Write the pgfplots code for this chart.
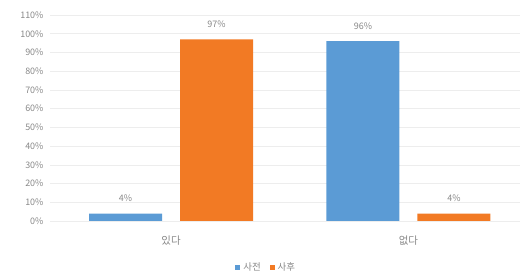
\documentclass[border=0pt]{standalone}
\usepackage{fontspec}
\setmainfont{Noto Sans CJK KR}
\usepackage{pgfplots}
\pgfplotsset{compat=1.18}
\definecolor{bblue}{HTML}{5B9BD5}
\definecolor{borange}{HTML}{F27A24}
\definecolor{tgray}{HTML}{888888}
\definecolor{ggray}{HTML}{EDEDED}
\begin{document}
\begin{tikzpicture}
\useasboundingbox (0,0) rectangle (521bp,279bp);
\begin{axis}[
  at={(50bp,58bp)}, anchor=south west,
  scale only axis, width=470bp, height=206bp,
  ybar=18bp, bar width=73bp,
  xmin=-0.51, xmax=1.47, ymin=0, ymax=110,
  xtick={0,1}, xticklabels={있다,없다},
  ytick={0,10,...,110},
  yticklabel={\pgfmathprintnumber{\tick}\%},
  /pgf/number format/assume math mode=true,
  axis line style={draw=none},
  major tick length=0pt,
  ymajorgrids, grid style={ggray, line width=0.6pt},
  tick label style={font=\fontsize{9}{10}\selectfont, text=tgray},
  yticklabel style={xshift=-3bp},
  xticklabel style={yshift=-11bp, font=\fontsize{10.5}{12}\selectfont},
  nodes near coords={\pgfmathprintnumber{\pgfplotspointmeta}\%},
  nodes near coords style={font=\fontsize{9}{10}\selectfont, text=tgray, /pgf/number format/assume math mode=true, yshift=8bp},
  legend style={at={(0.46,-0.225)}, anchor=center, draw=none, legend columns=2,
    font=\fontsize{9.5}{11}\selectfont, text=tgray,
    /tikz/every odd column/.append style={column sep=1bp},
    /tikz/every even column/.append style={column sep=7bp}},
  legend image code/.code={\fill[#1] (0bp,-2.5bp) rectangle (5bp,2.5bp);},
]
\addplot[fill=bblue, draw=none] coordinates {(0,4) (1,96)};
\addplot[fill=borange, draw=none] coordinates {(0,97) (1,4)};
\legend{사전,사후}
\end{axis}
\end{tikzpicture}
\end{document}
